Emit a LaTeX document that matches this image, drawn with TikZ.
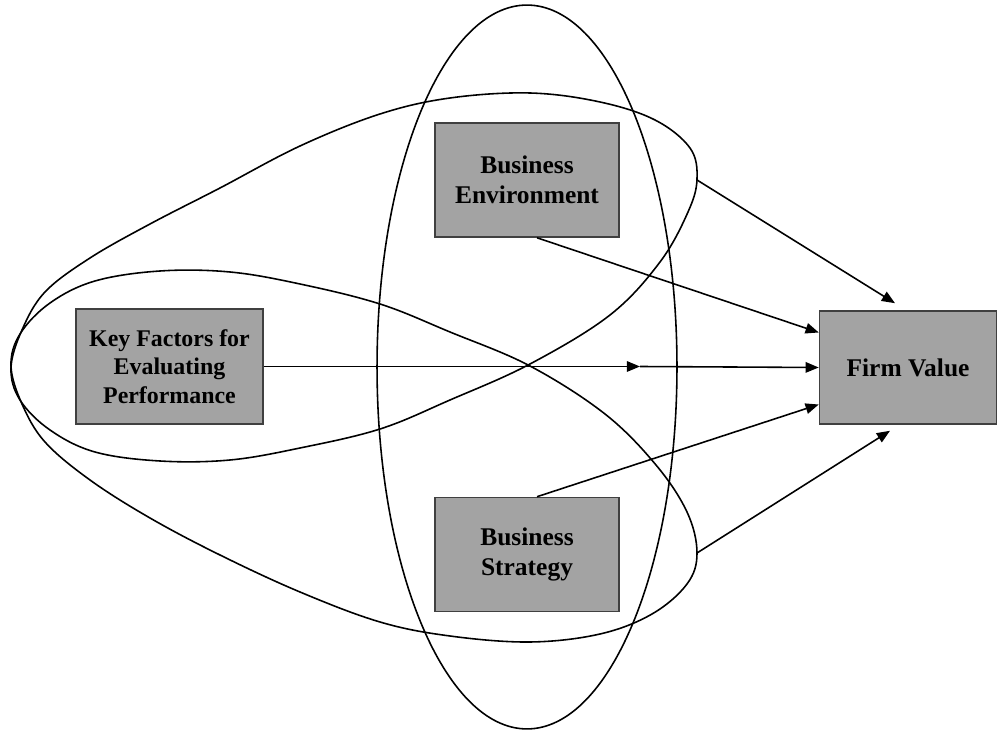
\documentclass[tikz,border=0pt]{standalone}
\usepackage{fontspec}
\setmainfont{Liberation Serif}
\usetikzlibrary{arrows.meta,positioning}

\begin{document}
\begin{tikzpicture}[
    x=0.02cm, y=-0.02cm,
    box/.style={rectangle, draw=black!75, fill=black!36, line width=0.9pt,
        minimum width=3.68cm, minimum height=2.28cm, inner sep=0, align=center,
        font=\fontsize{14.5}{16.8}\selectfont\bfseries},
    conn/.style={-{Triangle[length=7.5pt,width=6pt]}, line width=0.9pt},
    setloop/.style={line width=0.9pt}]
\useasboundingbox (0,0) rectangle (997,732);

% the three overlapping sets
\draw[setloop] (527,367) ellipse [x radius=3cm, y radius=7.24cm];
\draw[setloop] plot[smooth cycle, tension=0.6] coordinates {
    (11,368) (22,330) (45,292) (90,258) (150,224) (220,188) (300,146) (380,114)
    (450,98) (530,93) (600,102) (655,120) (690,148) (697,179) (688,212) (660,262)
    (610,315) (530,364) (450,400) (380,429) (300,448) (230,460) (160,461) (95,452)
    (50,430) (20,400)};
\draw[setloop] plot[smooth cycle, tension=0.6] coordinates {
    (11,366) (22,404) (45,442) (90,480) (150,518) (220,555) (300,592) (380,622)
    (450,636) (530,642) (600,634) (652,614) (687,584) (697,553) (687,512) (656,465)
    (605,414) (530,366) (450,332) (380,304) (300,284) (230,272) (160,271) (95,281)
    (50,303) (20,334)};
\coordinate (envend) at (697,180);
\coordinate (strend) at (697,553);

% boxes
\node[box] (env) at (527,180) {Business\\Environment};
\node[box, minimum width=3.74cm, minimum height=2.3cm,
    font=\fontsize{13.6}{16.2}\selectfont\bfseries] (kf) at (169.5,366.5)
    {Key Factors for\\Evaluating\\Performance};
\node[box] (str) at (527,554.5) {Business\\Strategy};
\node[box, minimum width=3.54cm, minimum height=2.26cm] (fv) at (908,367.5) {Firm Value};
\coordinate (mid) at (640,366.5);

% links
\draw[conn] (envend) -- ([xshift=-0.26cm, yshift=0.14cm]fv.north);
\draw[conn] ([xshift=0.2cm]env.south) -- ([yshift=0.7cm]fv.west);
\draw[conn] (kf.east) -- (mid);
\draw[conn] (mid) -- (fv.west);
\draw[conn] ([xshift=0.2cm]str.north) -- ([yshift=-0.74cm]fv.west);
\draw[conn] (strend) -- ([xshift=-0.36cm, yshift=-0.12cm]fv.south);
\end{tikzpicture}
\end{document}
